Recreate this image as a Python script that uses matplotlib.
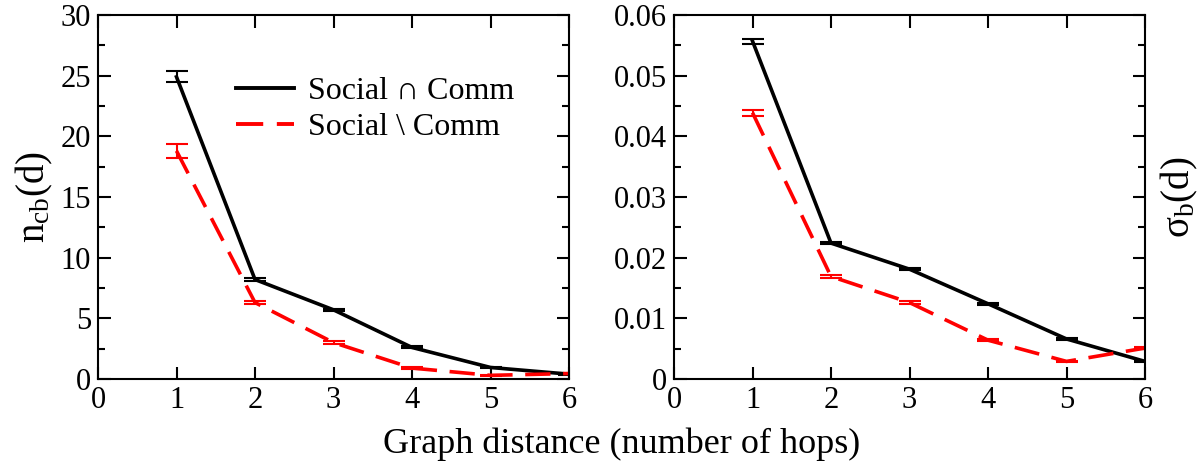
import matplotlib
matplotlib.use('Agg')
import matplotlib.pyplot as plt
from matplotlib.lines import Line2D
from matplotlib.ticker import MultipleLocator, FormatStrFormatter

plt.rcParams['font.family'] = ['Liberation Serif', 'DejaVu Serif']
plt.rcParams['mathtext.fontset'] = 'custom'
plt.rcParams['mathtext.rm'] = 'Liberation Serif'
plt.rcParams['mathtext.it'] = 'Liberation Serif'

hops = [1, 2, 3, 4, 5, 6]

# left panel: n_cb(d)
ncb_inter = [24.9, 8.2, 5.7, 2.6, 0.95, 0.4]
ncb_inter_err = [0.45, 0.12, 0.1, 0.08, 0.05, 0.03]
ncb_diff = [18.8, 6.3, 3.0, 0.9, 0.3, 0.45]
ncb_diff_err = [0.6, 0.12, 0.1, 0.05, 0.03, 0.03]

# right panel: sigma_b(d)
sig_inter = [0.0557, 0.0224, 0.0181, 0.0124, 0.0066, 0.0029]
sig_inter_err = [0.0004, 0.0002, 0.0002, 0.0002, 0.0001, 0.0001]
sig_diff = [0.0439, 0.0169, 0.0126, 0.0064, 0.0029, 0.0051]
sig_diff_err = [0.0005, 0.0002, 0.0002, 0.0002, 0.0001, 0.0001]

labels = ['Social \u2229 Comm', 'Social \\ Comm']
dash = (7, 3.5)

fig = plt.figure(figsize=(12, 4.63), dpi=100)
ax1 = fig.add_axes([98/1200, 1-379/463, 471/1200, 364/463])
ax2 = fig.add_axes([674/1200, 1-379/463, 471/1200, 364/463])

def draw(ax, yi, ei, yd, ed):
    ax.errorbar(hops, yi, yerr=ei, color='black', lw=2.6, capsize=8,
                elinewidth=1.5, capthick=1.5)
    ax.errorbar(hops, yd, yerr=ed, color='red', lw=2.6, capsize=8,
                elinewidth=1.5, capthick=1.5, dashes=dash)
    ax.set_xlim(0, 6)
    ax.xaxis.set_major_locator(MultipleLocator(1))
    ax.tick_params(which='both', direction='in', top=True, right=True,
                   labelsize=22, width=1.5)
    ax.tick_params(which='major', length=9, pad=5)
    ax.tick_params(which='minor', length=5)
    for s in ax.spines.values():
        s.set_linewidth(1.5)

draw(ax1, ncb_inter, ncb_inter_err, ncb_diff, ncb_diff_err)
ax1.set_ylim(0, 30)
ax1.yaxis.set_major_locator(MultipleLocator(5))
ax1.yaxis.set_minor_locator(MultipleLocator(2.5))
ax1.set_ylabel('$\\mathrm{n_{cb}(d)}$', fontsize=28, labelpad=4)

handles = [Line2D([], [], color='black', lw=2.8),
           Line2D([], [], color='red', lw=2.8, dashes=dash)]
ax1.legend(handles, labels, loc='upper left', bbox_to_anchor=(0.293, 0.83),
           frameon=False, fontsize=23, handlelength=1.8, handletextpad=0.45,
           labelspacing=0.2, borderaxespad=0, borderpad=0)

draw(ax2, sig_inter, sig_inter_err, sig_diff, sig_diff_err)
ax2.set_ylim(0, 0.06)
ax2.yaxis.set_major_locator(MultipleLocator(0.01))
ax2.yaxis.set_minor_locator(MultipleLocator(0.005))
ax2.yaxis.set_major_formatter(FormatStrFormatter('%g'))
ax2.yaxis.set_label_position('right')
ax2.set_ylabel('$\\mathrm{\\sigma_{b}(d)}$', fontsize=28, labelpad=10)

fig.text(0.5*(98+1145)/1200, 0.005, 'Graph distance (number of hops)',
         ha='center', va='bottom', fontsize=26)

fig.savefig('out.png', dpi=100)
